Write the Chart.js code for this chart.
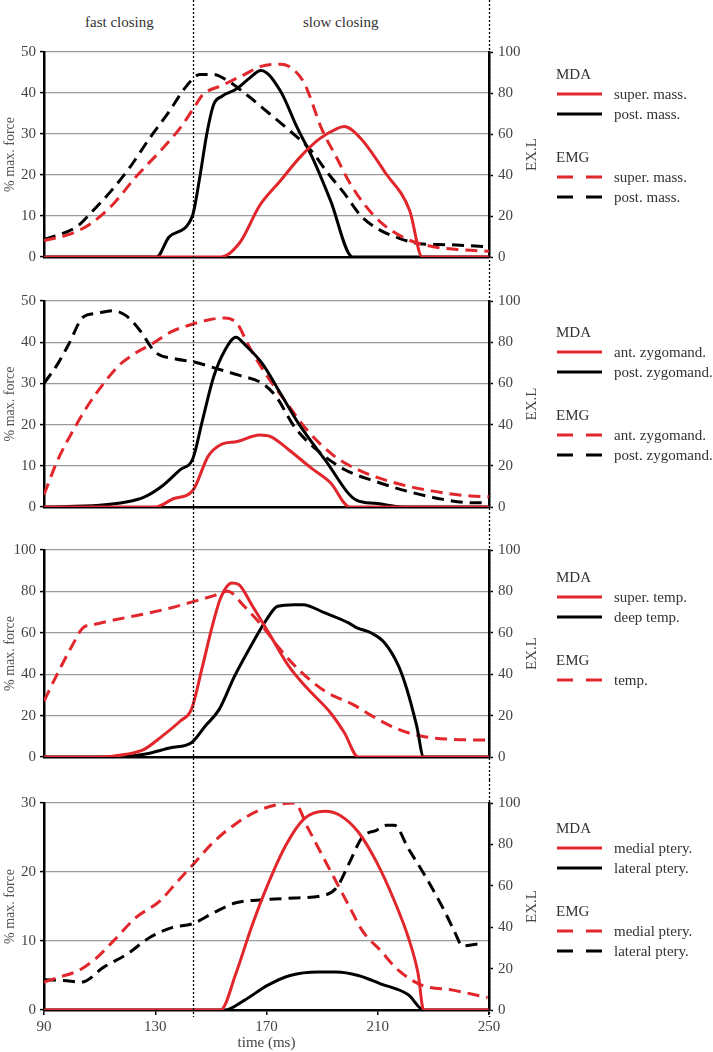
<!DOCTYPE html>
<html>
<head>
<meta charset="utf-8">
<script src="https://cdn.jsdelivr.net/npm/chart.js@4.4.0/dist/chart.umd.min.js"></script>
<style>
  body { margin: 0; background: #fff; }
  #page { position: relative; width: 713px; height: 1052px; font-family: "Liberation Serif", "DejaVu Serif", serif; color: #333; }
  canvas { position: absolute; left: 0; }
  .txt { position: absolute; font-size: 15px; white-space: nowrap; line-height: 1; transform: translateY(-50%); }
  .solid, .dash { position: absolute; height: 3px; transform: translateY(-50%); }
</style>
</head>
<body>
<div id="page">
  <div class="txt" style="left:85px; top:22px;">fast closing</div>
  <div class="txt" style="left:303px; top:22px;">slow closing</div>
  <canvas id="c1" width="713" height="280" style="top:0px"></canvas>
  <canvas id="c2" width="713" height="250" style="top:280px"></canvas>
  <canvas id="c3" width="713" height="250" style="top:530px"></canvas>
  <canvas id="c4" width="713" height="272" style="top:780px"></canvas>
</div>
<script>
// phase boundaries (ms)
const phaseLines = [143.5, 250];
const timeTicks = [90, 130, 170, 210, 250];

// panel 1 : masseter  [time ms, value]
const superMassMDA = [[90,0],[153.5,0],[160.5,3.6],[167.5,12.5],[175,18.6],[182,24.3],[189,28.8],[195,31.2],[198,31.8],[203.5,29.2],[213,20.3],[221.5,11.3],[226,0],[250,0]];
const postMassMDA = [[90,0],[130.5,0],[135,4.9],[143.3,9.9],[146,19.4],[148.5,29.9],[151,37.2],[154,39.2],[159,40.9],[164,43.7],[168,45.5],[175,40.5],[181,31.6],[187,23.5],[193,13.8],[201,0],[250,0]];
const superMassEMG = [[90,8],[99,11],[106.5,16],[115,26],[123,39],[132,52],[139,63],[144,73],[147,79],[154.5,84],[162,89],[168,93],[175,94],[178,93],[183.5,85],[190,62],[195,49],[200,36],[205,26],[211,17],[220,9],[230,5],[240,3.6],[250,2.8]];
const postMassEMG = [[90,8.5],[102,15],[106.5,21],[114,32],[121,44],[128,58],[135,71],[141,83],[146,89],[151,89],[156,86],[163,79],[171,70],[178,62],[186,52],[192,41],[198,31],[204,20],[211,13],[218,9],[225,6.5],[235,6],[250,5]];

// panel 2 : zygomaticomandibularis
const antZygoMDA = [[90,0],[130,0],[136.5,2],[143.5,4],[149,12.3],[153.5,15.1],[159.5,15.9],[167.5,17.5],[171.5,17.1],[178,13.9],[186,9.5],[193,5.9],[200,0],[250,0]];
const postZygoMDA = [[90,0],[110,0.4],[119.5,1.2],[126,2.4],[132.5,5.1],[139,9.1],[143.5,11.7],[147,21.1],[151,31.6],[155,38],[159,41.2],[162.5,39.2],[168.5,34.8],[175,27.6],[181.5,20.3],[191,11.5],[202.5,1.6],[209,0.9],[219,0],[250,0]];
const antZygoEMG = [[90,6],[95,23],[100,36],[105.5,48.7],[111,59.2],[117,68.8],[122.5,74.4],[129,79.3],[135.5,84.9],[143,88.6],[149,90.8],[155,91.8],[159.5,88.9],[163.5,78.5],[170,64],[176.5,51.9],[184.5,37.5],[194.5,24.6],[204,17.4],[217,11.4],[230,7.7],[243.5,5.3],[250,5]];
const postZygoEMG = [[90,60],[95,69.6],[99,79.3],[104,92.1],[109,94],[114.5,95.3],[119.5,92.9],[124.5,85.7],[130,75.2],[137,72],[144,70.4],[152,67.2],[160,64],[168.5,60],[173.5,53.5],[180,39],[188,27.8],[198,18.2],[209,12.5],[220.5,7.7],[233.5,3.7],[243.5,2.1],[249,2.1]];

// panel 3 : temporalis
const superTempMDA = [[90,0],[110,0],[119.5,1.3],[126,3.7],[132.5,10.1],[139,17.4],[143,23],[147,43.9],[150.5,63.2],[153.5,76.8],[157.5,84.1],[160,83.3],[165,72.8],[171.5,58.4],[178,43.9],[184.5,33.4],[193,21.4],[198,11.7],[203,0],[250,0]];
const deepTempMDA = [[90,0],[113,0],[126,1.3],[135.5,4.5],[143,6.9],[148,15],[153,23],[158.5,39],[165,55.1],[170,66.4],[174,72.8],[180,73.6],[183,73.6],[191,69.6],[199.5,64.8],[202.5,62.4],[207.5,60],[212.5,55.1],[217.5,43.9],[220.5,32.6],[224,15],[226.5,0],[250,0]];
const tempEMG = [[90,27],[95,40.7],[100,53.5],[104,62.4],[108,64],[116,66.4],[126,69.1],[135.5,72],[143,74.8],[150.5,77.7],[156,80.1],[162,72.8],[168.5,63.2],[175,51.9],[181.5,42.3],[191,31.8],[201,25.4],[209,19],[217.5,13.3],[225.5,10.1],[237,8.5],[249,8.2]];

// panel 4 : pterygoids
const medialMDA = [[90,0],[153.5,0],[159,5.3],[164.5,11.9],[170.5,18.2],[177,23.9],[183.5,27.7],[191,28.8],[196.5,28.2],[203,25.8],[209.5,21.5],[216,15.8],[221,10.5],[224.5,5.3],[226.5,0],[250,0]];
const lateralMDA = [[90,0],[155,0],[162,1.4],[170.5,3.6],[178.5,5],[188.5,5.5],[195,5.5],[203,5],[211,3.8],[221,2.2],[226.5,0],[250,0]];
const medialEMG = [[90,13.5],[95.5,15.9],[102.5,19.1],[108.5,24.7],[115,33.4],[123,44.6],[131.5,52.5],[138,62.1],[143.5,70.1],[151,81.2],[159,90],[167,96.3],[175,99.5],[180,100],[185,87.6],[190,74.8],[195,62.1],[200,49.4],[204.5,38.2],[211,28.7],[217.5,19.1],[226,11.9],[237,9.6],[249.5,6]];
const lateralEMG = [[90,14.6],[97,14.3],[103.5,13.5],[111.5,20.7],[120,27.1],[128,35],[136,39.8],[143.5,41.7],[151,47],[159,51.8],[169,53.3],[180,54.1],[191.5,55.7],[195.5,59.7],[200,71.7],[204.5,83.6],[209.5,86.8],[213,89.2],[216,89.2],[221,78],[227.5,63.7],[234,47.8],[237.5,38.2],[240.5,31],[245.5,31.8],[247.5,32]];

const RED = '#e1262c';
const BLACK = '#000000';
const FONT = '"Liberation Serif", "DejaVu Serif", serif';

// dotted phase lines + right axis title (reads bottom to top)
const overlay = {
  id: 'overlay',
  afterDraw(chart, args, opts) {
    const ctx = chart.ctx;
    const xs = chart.scales.x;
    ctx.save();
    ctx.strokeStyle = '#000';
    ctx.lineWidth = 1.3;
    ctx.setLineDash([2, 2]);
    phaseLines.forEach(t => {
      const px = Math.round(xs.getPixelForValue(t)) + 0.5;
      ctx.beginPath();
      ctx.moveTo(px, 0);
      ctx.lineTo(px, opts.lineEnd);
      ctx.stroke();
    });
    ctx.setLineDash([]);
    const a = chart.chartArea;
    ctx.translate(532, (a.top + a.bottom) / 2);
    ctx.rotate(-Math.PI / 2);
    ctx.font = '15px ' + FONT;
    ctx.fillStyle = '#444';
    ctx.textAlign = 'center';
    ctx.textBaseline = 'middle';
    ctx.fillText('EX.L', 0, 0);
    ctx.restore();
  }
};

function line(points, color, dashed, axis) {
  return {
    data: points.map(p => ({x: p[0], y: p[1]})),
    yAxisID: axis,
    borderColor: color,
    backgroundColor: color,
    borderWidth: 3,
    borderDash: dashed ? [12, 7] : [],
    pointRadius: 0,
    cubicInterpolationMode: 'monotone',
    fill: false
  };
}

function makePanel(id, p) {
  const last = p.showTime;
  new Chart(document.getElementById(id), {
    type: 'line',
    data: {
      datasets: [
        line(p.mda[0], RED, false, 'y'),
        p.mda[1] ? line(p.mda[1], BLACK, false, 'y') : null,
        line(p.emg[0], RED, true, 'y2'),
        p.emg[1] ? line(p.emg[1], BLACK, true, 'y2') : null
      ].filter(d => d)
    },
    options: {
      responsive: false,
      animation: false,
      devicePixelRatio: 1,
      layout: { padding: { top: p.top, bottom: 0, left: 0, right: 164 } },
      plugins: { legend: { display: false }, tooltip: { enabled: false }, overlay: { lineEnd: p.lineEnd } },
      scales: {
        x: {
          type: 'linear', min: 90, max: 250,
          afterBuildTicks: s => { s.ticks = timeTicks.map(v => ({value: v})); },
          afterFit: s => { s.height = p.xHeight; },
          grid: { display: true, drawOnChartArea: false, drawTicks: last, tickLength: 5, color: '#000', lineWidth: 1.5 },
          border: { display: true, color: '#000', width: 2.5 },
          ticks: { display: last, padding: 3, color: '#444', font: { family: FONT, size: 15 } },
          title: { display: last, text: 'time (ms)', color: '#444', padding: 0, font: { family: FONT, size: 15 } }
        },
        y: {
          position: 'left', min: 0, max: p.leftMax,
          ticks: { stepSize: p.leftStep, padding: 4, color: '#444', font: { family: FONT, size: 15 } },
          afterFit: s => { s.width = 44; },
          grid: { color: '#9a9a9a', lineWidth: 1.2, tickColor: '#000', tickLength: 4, tickWidth: 1.5, z: -1 },
          border: { color: '#000', width: 2.5 },
          title: { display: true, text: '% max. force', color: '#555', padding: 2, font: { family: FONT, size: 14 } }
        },
        y2: {
          position: 'right', min: 0, max: 100,
          ticks: { stepSize: 20, padding: 5, color: '#444', font: { family: FONT, size: 15 } },
          afterFit: s => { s.width = 60; },
          grid: { drawOnChartArea: false, tickColor: '#000', tickLength: 4, tickWidth: 1.5 },
          border: { color: '#000', width: 2.5 }
        }
      }
    },
    plugins: [overlay]
  });
}

// legend built as html text next to each panel
function makeLegend(y0, mdaNames, emgNames) {
  const page = document.getElementById('page');
  let rows = [['MDA', null, false]];
  mdaNames.forEach((n, i) => rows.push([n, i ? BLACK : RED, false]));
  const emgStart = rows.length;
  rows.push(['EMG', null, false]);
  emgNames.forEach((n, i) => rows.push([n, i ? BLACK : RED, true]));
  rows.forEach((r, i) => {
    let y = y0 + i * 20;
    if (i >= emgStart) y += 23;
    const t = document.createElement('div');
    t.className = 'txt';
    t.textContent = r[0];
    t.style.top = y + 'px';
    t.style.left = (r[1] ? 614 : 556) + 'px';
    page.appendChild(t);
    if (!r[1]) return;
    const segs = r[2] ? [[557, 16], [586, 16]] : [[557, 45]];
    segs.forEach(s => {
      const d = document.createElement('div');
      d.className = 'solid';
      d.style.left = s[0] + 'px';
      d.style.width = s[1] + 'px';
      d.style.top = y + 'px';
      d.style.background = r[1];
      page.appendChild(d);
    });
  });
}

makePanel('c1', { mda: [superMassMDA, postMassMDA], emg: [superMassEMG, postMassEMG], leftMax: 50, leftStep: 10, top: 52, xHeight: 23, showTime: false, lineEnd: 280 });
makePanel('c2', { mda: [antZygoMDA, postZygoMDA], emg: [antZygoEMG, postZygoEMG], leftMax: 50, leftStep: 10, top: 21, xHeight: 23, showTime: false, lineEnd: 250 });
makePanel('c3', { mda: [superTempMDA, deepTempMDA], emg: [tempEMG], leftMax: 100, leftStep: 20, top: 20, xHeight: 23, showTime: false, lineEnd: 250 });
makePanel('c4', { mda: [medialMDA, lateralMDA], emg: [medialEMG, lateralEMG], leftMax: 30, leftStep: 10, top: 23, xHeight: 42, showTime: true, lineEnd: 237 });

makeLegend(74, ['super. mass.', 'post. mass.'], ['super. mass.', 'post. mass.']);
makeLegend(332, ['ant. zygomand.', 'post. zygomand.'], ['ant. zygomand.', 'post. zygomand.']);
makeLegend(577, ['super. temp.', 'deep temp.'], ['temp.']);
makeLegend(828, ['medial ptery.', 'lateral ptery.'], ['medial ptery.', 'lateral ptery.']);
</script>
</body>
</html>
